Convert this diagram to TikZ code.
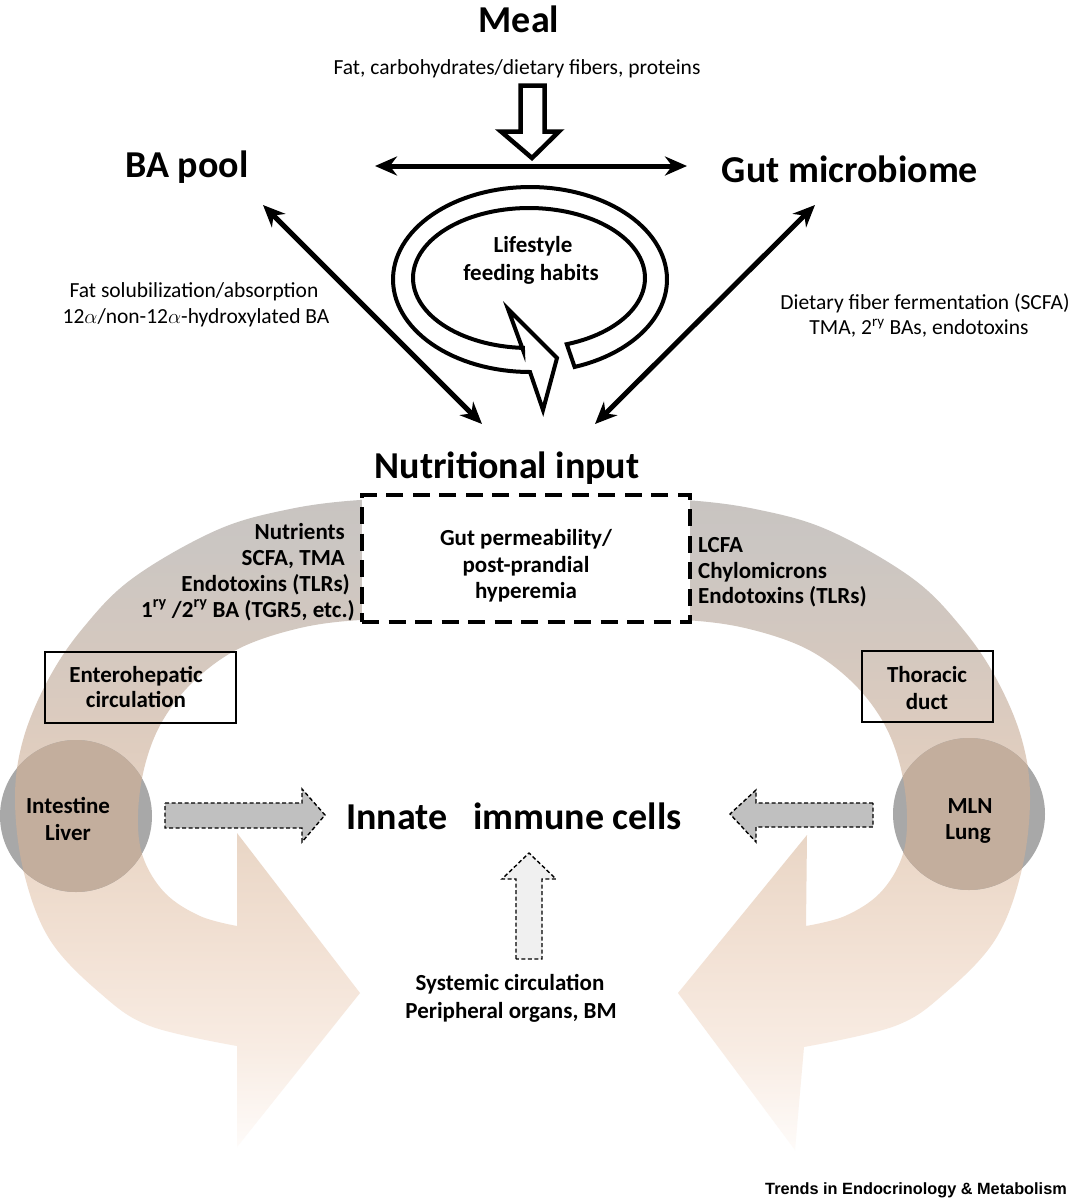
\documentclass[tikz,border=0pt]{standalone}
\usepackage{fontspec}
\setmainfont{Carlito}
\newfontfamily\trendsfont{Liberation Sans}
\usetikzlibrary{arrows.meta}
\definecolor{b0}{HTML}{FEFBF9}
\definecolor{b1}{HTML}{F8ECE3}
\definecolor{b2}{HTML}{F2E1D4}
\definecolor{b3}{HTML}{EAD7C7}
\definecolor{b4}{HTML}{DFCDBF}
\definecolor{b5}{HTML}{D4C8BF}
\definecolor{b6}{HTML}{CBC6C2}
\definecolor{b7}{HTML}{C8C4C1}
\definecolor{circgray}{HTML}{A8A8A8}
\definecolor{circtan}{HTML}{C3AE9D}
\definecolor{arrgray}{HTML}{C0C0C0}
\definecolor{arrlight}{HTML}{F0F0F0}
\pgfdeclareverticalshading{bandshade}{100bp}{color(0bp)=(b0); color(25bp)=(b0); color(32.7bp)=(b1); color(40.4bp)=(b2); color(48.1bp)=(b3); color(55.8bp)=(b4); color(63.5bp)=(b5); color(71.2bp)=(b6); color(75bp)=(b7); color(100bp)=(b7)}
\def\leftband{plot[smooth, tension=0.6] coordinates {(420,500) (360,500) (290,509) (217,530) (133,578) (83,628) (48,680) (23,740) (15,800) (24,873) (50,940) (100,993) (150,1026) (237,1046)} -- (237,1147) -- (360,993) -- (237,833) -- (237,926) -- plot[smooth, tension=0.6] coordinates {(237,926) (200,916) (165,893) (143,857) (138,815) (145,765) (163,720) (195,680) (240,648) (300,628) (360,620) (420,620)} -- cycle}
\def\rightband{plot[smooth, tension=0.6] coordinates {(625,500) (685,500) (755,509) (828,530) (912,578) (962,628) (997,680) (1022,740) (1030,800) (1021,873) (995,940) (945,993) (895,1026) (804,1047)} -- (795,1150) -- (678,993) -- (807,835) -- (806,926) -- plot[smooth, tension=0.6] coordinates {(806,926) (845,916) (880,893) (902,857) (907,815) (900,765) (882,720) (850,680) (805,648) (745,628) (685,620) (625,620)} -- cycle}
\begin{document}
\begin{tikzpicture}[x=1pt,y=-1pt,
  title/.style={font=\fontsize{38}{44}\selectfont\bfseries, inner sep=0pt},
  lbl/.style={font=\fontsize{23}{27}\selectfont\bfseries, inner sep=0pt},
  reg/.style={font=\fontsize{21.5}{26}\selectfont, inner sep=0pt},
  dbl/.style={line width=5pt, {Stealth[length=22pt,width=19pt]}-{Stealth[length=22pt,width=19pt]}},
  graydash/.style={draw=black, line width=1.4pt, dash pattern=on 4pt off 2.5pt, line join=miter},
  thinbox/.style={draw=black, line width=1.3pt},
  ring/.style={draw=black, line width=4pt, fill=white, line join=miter}]
\fill[white] (0,0) rectangle (1072,1200);
\path[use as bounding box] (0,0) rectangle (1072,1200);

% big curved bands
\path[shading=bandshade] \leftband;
\path[shading=bandshade] \rightband;

% circles
\fill[circgray] (76,816) circle (76);
\begin{scope}
  \clip (76,816) circle (76);
  \fill[circtan] \leftband;
\end{scope}
\fill[circgray] (969,814) circle (76);
\begin{scope}
  \clip (969,814) circle (76);
  \fill[circtan] \rightband;
\end{scope}

% dashed box
\node[draw, line width=3.5pt, dash pattern=on 17pt off 9.5pt, fill=white, minimum width=328pt, minimum height=127pt, inner sep=0pt] (gp) at (526,558.5) {};
\node[lbl, anchor=base] (gp1) at (526,545) {Gut permeability/};
\node[lbl, anchor=base] (gp2) at (526,572) {post-prandial};
\node[lbl, anchor=base] (gp3) at (526,598) {hyperemia};

% thin boxes
\draw[thinbox] (45,652) rectangle (236,723);
\draw[thinbox] (862,651) rectangle (993,722);
\node[lbl, anchor=base] (eh1) at (136,682) {Enterohepatic};
\node[lbl, anchor=base] (eh2) at (136,707) {circulation};
\node[lbl, anchor=base] (td1) at (927,682) {Thoracic};
\node[lbl, anchor=base] (td2) at (927,709) {duct};

% circle texts
\node[lbl, anchor=base] (il1) at (68,813) {Intestine};
\node[lbl, anchor=base] (il2) at (68,840) {Liver};
\node[lbl, anchor=base] (ml1) at (970,813) {MLN};
\node[lbl, anchor=base] (ml2) at (968,839) {Lung};

% band labels
\node[lbl, anchor=base east] (nl1) at (345,539) {Nutrients};
\node[lbl, anchor=base east] (nl2) at (345,565) {SCFA, TMA};
\node[lbl, anchor=base east] (nl3) at (350,591) {Endotoxins (TLRs)};
\node[lbl, anchor=base east] (nl4) at (355,617) {1\textsuperscript{ry} /2\textsuperscript{ry} BA (TGR5, etc.)};
\node[lbl, anchor=base west] (nr1) at (698,552) {LCFA};
\node[lbl, anchor=base west] (nr2) at (698,578) {Chylomicrons};
\node[lbl, anchor=base west] (nr3) at (698,603) {Endotoxins (TLRs)};

% titles
\node[title, anchor=base] (meal) at (519,32) {Meal};
\node[reg, anchor=base] (mealtxt) at (517,74) {Fat, carbohydrates/dietary fibers, proteins};
\node[title, anchor=base] (ba) at (187,177) {BA pool};
\node[title, anchor=base] (gm) at (850,182) {Gut microbiome};
\node[title, anchor=base] (ni) at (507,478) {Nutritional input};
\node[title, anchor=base] (ic) at (514,829) {Innate\ \ \ immune cells};

\node[reg, anchor=base] (bat1) at (194,297) {Fat solubilization/absorption};
\node[reg, anchor=base] (bat2) at (196,323) {12$\alpha$/non-12$\alpha$-hydroxylated BA};
\node[reg, anchor=base] (gmt1) at (925,309) {Dietary fiber fermentation (SCFA)};
\node[reg, anchor=base] (gmt2) at (919,334) {TMA, 2\textsuperscript{ry} BAs, endotoxins};

\node[lbl, anchor=base] (sc1) at (510,990) {Systemic circulation};
\node[lbl, anchor=base] (sc2) at (511,1018) {Peripheral organs, BM};

\node[anchor=base east, inner sep=0pt, font=\trendsfont\fontsize{16.3}{18}\selectfont\bfseries] (trends) at (1067,1194) {Trends in Endocrinology \& Metabolism};

% meal hollow arrow
\draw[line width=4.5pt, fill=white, line join=miter, miter limit=20] (520.5,85.5) -- (544.5,85.5) -- (544.5,131.5) -- (559,131.5) -- (532,158) -- (501,131.5) -- (520.5,131.5) -- cycle;

% double arrows
\coordinate (hl) at (375,166);
\coordinate (hr) at (687,166);
\draw[dbl] (hl) -- (hr);
\coordinate (dl1) at (263,205);
\coordinate (dl2) at (482,424);
\draw[dbl] (dl1) -- (dl2);
\coordinate (dr1) at (815,205);
\coordinate (dr2) at (595,424);
\draw[dbl] (dr1) -- (dr2);

% lifestyle ring arrow
\draw[ring] plot[domain=-71:270, samples=120] ({530+137*cos(\x)},{279.5-92.5*sin(\x)}) -- (543,410) -- (557,358) -- (508,309) -- (523,350) -- plot[domain=267:-71, samples=120] ({529+116*cos(\x)},{278-70*sin(\x)}) -- cycle;
\node[lbl, anchor=base] (ls1) at (533,252) {Lifestyle};
\node[lbl, anchor=base] (ls2) at (531,280) {feeding habits};

% dashed gray arrows
\draw[graydash, fill=arrgray] (165,803) -- (302,803) -- (302,789) -- (325,815) -- (302,842) -- (302,828) -- (165,828) -- cycle;
\draw[graydash, fill=arrgray] (873,803) -- (756,803) -- (756,790) -- (730,814) -- (756,842) -- (756,827) -- (873,827) -- cycle;
\draw[graydash, fill=arrlight] (516,959) -- (516,879) -- (502,879) -- (529,853) -- (556,879) -- (542,879) -- (542,959) -- cycle;
\end{tikzpicture}
\end{document}
